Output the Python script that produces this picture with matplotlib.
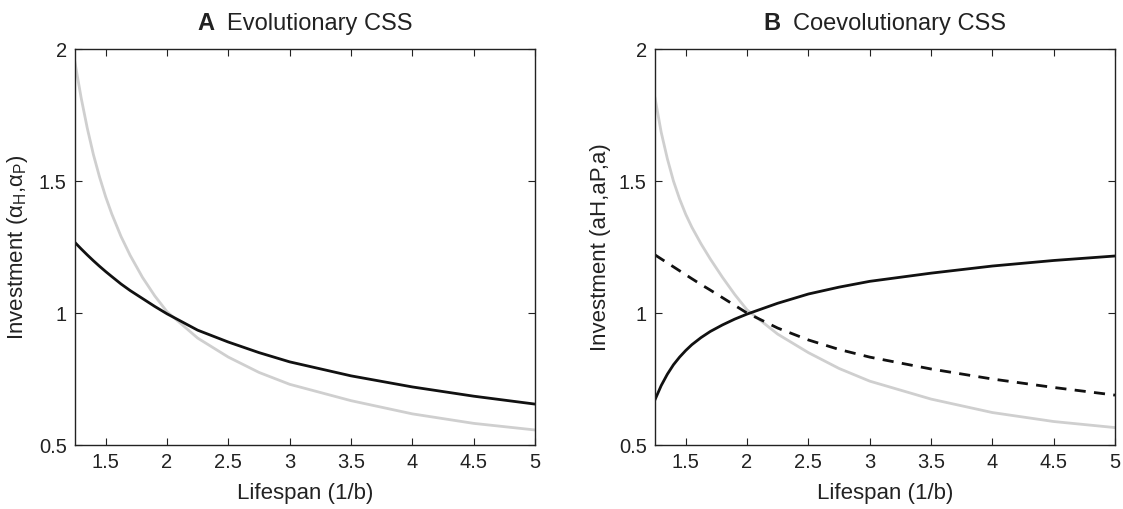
import matplotlib.pyplot as plt
from matplotlib.offsetbox import TextArea, HPacker, AnchoredOffsetbox

plt.rcParams['font.family'] = ['Liberation Sans', 'DejaVu Sans']

# Panel A: evolutionary CSS
lifespan_a = [1.25, 1.3, 1.35, 1.4, 1.45, 1.5, 1.55, 1.625, 1.7, 1.8, 1.9, 2.0,
              2.25, 2.5, 2.75, 3.0, 3.5, 4.0, 4.5, 5.0]
gray_a = [1.948, 1.815, 1.70, 1.60, 1.515, 1.44, 1.375, 1.29, 1.218, 1.135, 1.065, 1.005,
          0.905, 0.833, 0.775, 0.73, 0.668, 0.618, 0.582, 0.557]
black_a = [1.267, 1.243, 1.22, 1.198, 1.177, 1.157, 1.138, 1.11, 1.085, 1.055, 1.025, 0.997,
           0.935, 0.89, 0.85, 0.815, 0.762, 0.72, 0.685, 0.655]

# Panel B: coevolutionary CSS
lifespan_b = [1.25, 1.3, 1.35, 1.4, 1.45, 1.5, 1.55, 1.625, 1.7, 1.8, 1.9, 2.0,
              2.25, 2.5, 2.75, 3.0, 3.5, 4.0, 4.5, 5.0]
gray_b = [1.814, 1.685, 1.585, 1.50, 1.432, 1.374, 1.325, 1.262, 1.205, 1.135, 1.07, 1.012,
          0.92, 0.85, 0.79, 0.742, 0.674, 0.623, 0.589, 0.566]
solid_b = [0.672, 0.725, 0.768, 0.804, 0.833, 0.858, 0.88, 0.907, 0.93, 0.955, 0.977, 0.996,
           1.037, 1.072, 1.098, 1.12, 1.151, 1.178, 1.199, 1.216]
dashed_b = [1.22, 1.205, 1.19, 1.175, 1.16, 1.145, 1.13, 1.108, 1.087, 1.058, 1.029, 1.0,
            0.943, 0.898, 0.862, 0.833, 0.788, 0.75, 0.718, 0.689]

xticks = [1.5, 2, 2.5, 3, 3.5, 4, 4.5, 5]
xticklabels = ['1.5', '2', '2.5', '3', '3.5', '4', '4.5', '5']
yticks = [0.5, 1, 1.5, 2]
yticklabels = ['0.5', '1', '1.5', '2']

fig = plt.figure(figsize=(11.23, 5.09), dpi=100)
ax1 = fig.add_axes([0.0668, 0.1257, 0.4096, 0.778])
ax2 = fig.add_axes([0.5833, 0.1257, 0.4096, 0.778])

gray = '#cfcfcf'
ax1.plot(lifespan_a, gray_a, color=gray, linewidth=2.0)
ax1.plot(lifespan_a, black_a, color='#111111', linewidth=2.0)

ax2.plot(lifespan_b, gray_b, color=gray, linewidth=2.0)
ax2.plot(lifespan_b, solid_b, color='#111111', linewidth=2.0)
ax2.plot(lifespan_b, dashed_b, color='#111111', linewidth=2.0, linestyle=(0, (4, 3)))

ylabels = [r'Investment ($\mathregular{α_H}$,$\mathregular{α_P}$)', 'Investment (aH,aP,a)']
titles = [('A', 'Evolutionary CSS'), ('B', 'Coevolutionary CSS')]

for ax, ylab, (letter, name) in zip([ax1, ax2], ylabels, titles):
    ax.set_xlim(1.25, 5)
    ax.set_ylim(0.5, 2)
    ax.set_xticks(xticks)
    ax.set_xticklabels(xticklabels)
    ax.set_yticks(yticks)
    ax.set_yticklabels(yticklabels)
    ax.tick_params(direction='in', top=True, right=True, length=5, width=0.8,
                   labelsize=14.5, colors='#222222', pad=6)
    for sp in ax.spines.values():
        sp.set_linewidth(1.0)
        sp.set_color('#222222')
    ax.set_xlabel('Lifespan (1/b)', fontsize=16, color='#222222', labelpad=8)
    ax.set_ylabel(ylab, fontsize=16, color='#222222', labelpad=6)

    # bold panel letter followed by regular title text
    box = HPacker(children=[TextArea(letter, textprops=dict(fontsize=17, fontweight='bold', color='#222222')),
                            TextArea(name, textprops=dict(fontsize=17, color='#222222'))],
                  align='baseline', pad=0, sep=9)
    anchored = AnchoredOffsetbox(loc='lower center', child=box, pad=0, frameon=False,
                                 bbox_to_anchor=(0.5, 1.035), bbox_transform=ax.transAxes,
                                 borderpad=0)
    ax.add_artist(anchored)

fig.savefig('out.png', dpi=100)
